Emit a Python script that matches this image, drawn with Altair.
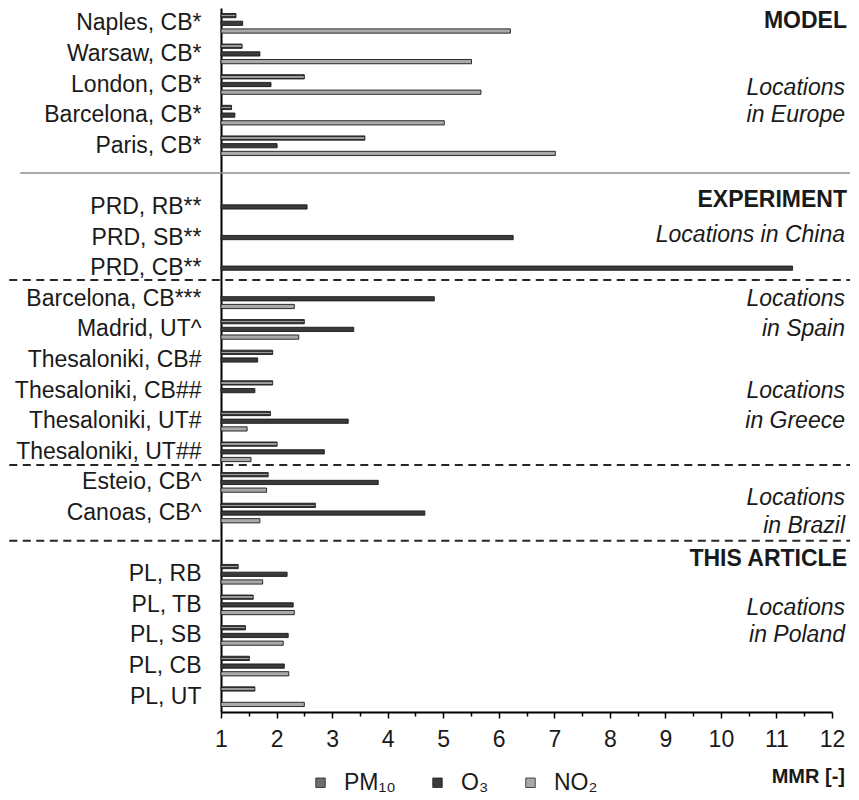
import altair as alt
import pandas as pd

# ---------------- data ----------------
locations = [
    "Naples, CB*", "Warsaw, CB*", "London, CB*", "Barcelona, CB*", "Paris, CB*",
    " ",
    "PRD, RB**", "PRD, SB**", "PRD, CB**",
    "Barcelona, CB***", "Madrid, UT^",
    "Thesaloniki, CB#", "Thesaloniki, CB##", "Thesaloniki, UT#", "Thesaloniki, UT##",
    "Esteio, CB^", "Canoas, CB^",
    "  ",
    "PL, RB", "PL, TB", "PL, SB", "PL, CB", "PL, UT",
]
pm10 = [1.27, 1.38, 2.50, 1.19, 3.59,
        None,
        None, None, None,
        None, 2.50,
        1.93, 1.93, 1.89, 2.01,
        1.85, 2.70,
        None,
        1.31, 1.58, 1.44, 1.51, 1.61]
o3 = [1.39, 1.70, 1.90, 1.25, 2.01,
      None,
      2.55, 6.26, 11.29,
      4.84, 3.39,
      1.66, 1.61, 3.29, 2.86,
      3.83, 4.67,
      None,
      2.19, 2.30, 2.21, 2.14, None]
no2 = [6.21, 5.51, 5.68, 5.02, 7.02,
       None,
       None, None, None,
       2.32, 2.40,
       None, None, 1.47, 1.54,
       1.82, 1.70,
       None,
       1.75, 2.32, 2.12, 2.22, 2.50]
pollutants = ["PM10", "O3", "NO2"]
x_ticks = [1 + 0.5 * i for i in range(23)]

annotations = [
    ("MODEL", "bold"), ("Locations", "italic"), ("in Europe", "italic"),
    ("EXPERIMENT", "bold"), ("Locations in China", "italic"),
    ("Locations", "italic"), ("in Spain", "italic"),
    ("Locations", "italic"), ("in Greece", "italic"),
    ("Locations", "italic"), ("in Brazil", "italic"),
    ("THIS ARTICLE", "bold"),
    ("Locations", "italic"), ("in Poland", "italic"),
]

# ---------------- long table ----------------
rows = []
for i, loc in enumerate(locations):
    for key, series in zip(pollutants, [pm10, o3, no2]):
        if series[i] is not None:
            rows.append({"location": loc, "pollutant": key, "value": series[i]})
df = pd.DataFrame(rows)

FONT = "Liberation Sans"
W, H = 611, 704

pm_gradient = {
    "gradient": "linear", "x1": 0, "y1": 0, "x2": 0, "y2": 1,
    "stops": [
        {"offset": 0.0, "color": "#363636"},
        {"offset": 0.33, "color": "#363636"},
        {"offset": 0.33, "color": "#9c9c9c"},
        {"offset": 0.67, "color": "#9c9c9c"},
        {"offset": 0.67, "color": "#363636"},
        {"offset": 1.0, "color": "#363636"},
    ],
}

label_expr = "{'PM10':'PM₁₀','O3':'O₃','NO2':'NO₂'}[datum.label]"

bars = alt.Chart(df).mark_bar(stroke="#1a1a1a", strokeWidth=0.9).encode(
    y=alt.Y("location:N",
            scale=alt.Scale(domain=locations, paddingInner=0.245, paddingOuter=0.1225),
            axis=alt.Axis(ticks=False, labelFontSize=23, labelFont=FONT, labelColor="#1a1a1a",
                          labelPadding=20, labelLimit=400, domainColor="#000000",
                          domainWidth=2, title=None)),
    yOffset=alt.YOffset("pollutant:N",
                        scale=alt.Scale(domain=pollutants, paddingInner=0.45, paddingOuter=0.225)),
    x=alt.X("value:Q",
            scale=alt.Scale(domain=[1, 12], nice=False, zero=False),
            axis=alt.Axis(values=x_ticks,
                          labelExpr="datum.value % 1 === 0 ? format(datum.value, 'd') : ''",
                          tickSize={"condition": {"test": "datum.value % 1 === 0", "value": 6}, "value": 4},
                          grid=False, domainColor="#000000", domainWidth=2,
                          tickColor="#000000", tickWidth=1.5,
                          labelFontSize=23, labelFont=FONT, labelColor="#1a1a1a",
                          labelPadding=10, labelOverlap=False, labelFlush=False, title=None)),
    x2=alt.datum(1),
    fill={
        "condition": {"test": "datum.pollutant === 'PM10'", "value": pm_gradient},
        "field": "pollutant", "type": "nominal",
        "scale": {"domain": pollutants, "range": ["#6e6e6e", "#3a3a3a", "#a9a9a9"]},
        "legend": {"orient": "none", "legendX": 88, "legendY": 763, "direction": "horizontal",
                   "title": None, "symbolType": "square", "symbolSize": 90,
                   "symbolStrokeColor": "#222222", "symbolStrokeWidth": 0.8,
                   "labelFontSize": 23, "labelFont": FONT, "labelColor": "#1a1a1a",
                   "labelOffset": 12, "columnPadding": 30, "padding": 0,
                   "labelExpr": label_expr},
    },
)

one = pd.DataFrame({"a": [0]})

def hrule(y, x0, color, width, dash=None):
    kw = dict(color=color, strokeWidth=width)
    if dash:
        kw["strokeDash"] = dash
    return alt.Chart(one).mark_rule(**kw).encode(
        x=alt.value(x0), x2=alt.value(629), y=alt.value(y))

rules = [
    hrule(165, -200.7, "#8c8c8c", 1.5),
    hrule(272, -211.7, "#262626", 2, [8, 5.5]),
    hrule(457, -211.7, "#262626", 2, [8, 5.5]),
    hrule(532.7, -211.7, "#262626", 2, [8, 5.5]),
]

ann_y = [13, 80, 107, 192, 227, 290.7, 321.3, 382.5, 413, 490, 518, 551, 599.8, 627.3]
texts = []
for (txt, style), yy in zip(annotations, ann_y):
    if style == "bold":
        mk = dict(fontWeight="bold", fontStyle="normal")
        xx = 626
    else:
        mk = dict(fontWeight="normal", fontStyle="italic")
        xx = 624
    texts.append(
        alt.Chart(pd.DataFrame({"t": [txt]})).mark_text(
            align="right", baseline="middle", font=FONT, fontSize=23, color="#1a1a1a", **mk
        ).encode(text="t:N", x=alt.value(xx), y=alt.value(yy))
    )

mmr = alt.Chart(pd.DataFrame({"t": ["MMR [-]"]})).mark_text(
    align="right", baseline="middle", font=FONT, fontSize=20, fontWeight="bold", color="#1a1a1a"
).encode(text="t:N", x=alt.value(624), y=alt.value(769))

chart = alt.layer(bars, *rules, *texts, mmr).properties(
    width=W, height=H, background="white",
    padding={"left": 0, "top": 0, "right": 0, "bottom": 0},
).configure_view(stroke=None)

chart.save("out.html", embed_options={"renderer": "svg", "actions": False})
